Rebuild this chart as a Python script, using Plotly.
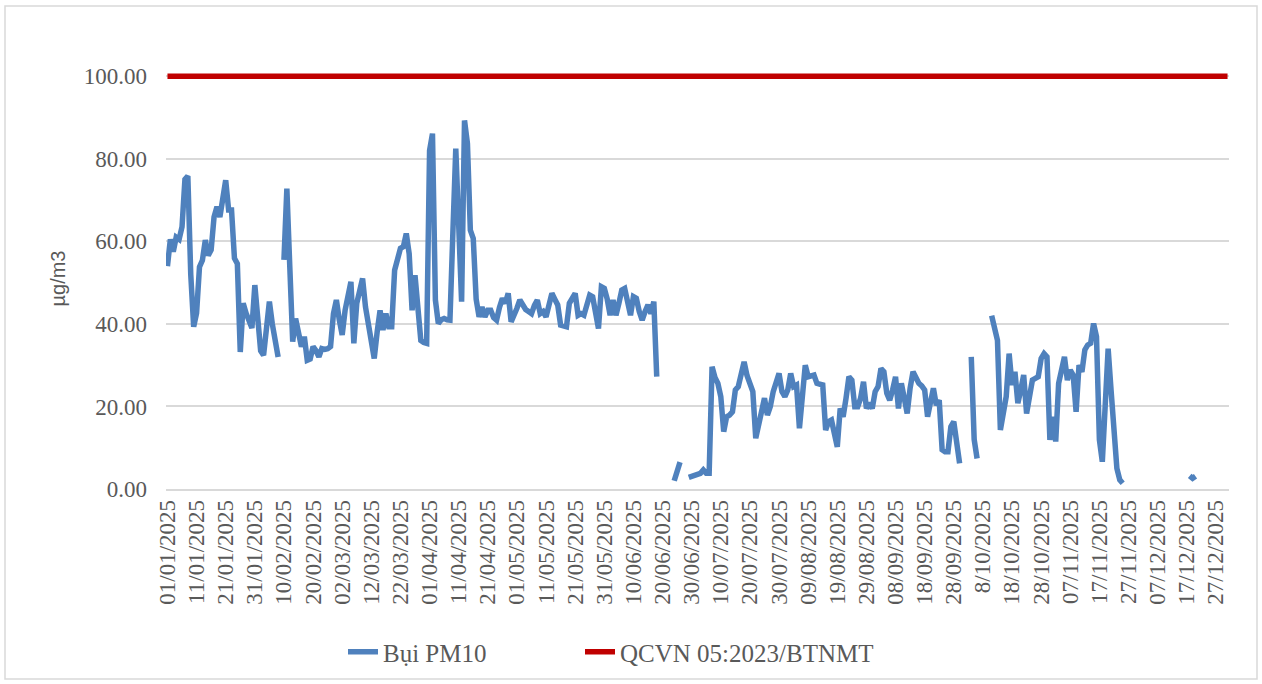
import pandas as pd
import plotly.graph_objects as go

N = None
# Daily PM10 values (µg/m3), 2025, by month
jan = [54, 60.5, 57.5, 61, 60.5, 63.5, 75, 75.8, 52, 39.3, 42.6, 53.8, 55.4, 60.3, 56.6, 57.9,
       65.9, 68.4, 65.9, 70, 74.8, 67.6, 67.6, 55.9, 54.6, 33.2, 45, 42.6, 41, 39, 49.4]
feb = [39.3, 33.5, 32.4, 38, 45.4, 40, 35, 32, N, 55.5, 72.8, 54, 35.7, 41.3, 38, 34.5,
       36.9, 31.2, 31.5, 34.5, 33.5, 32, 34, 33.8, 34, 34.5, 42.5, 45.8]
mar = [41, 37.3, 43.3, 46.5, 50.2, 35.3, 45, 48, 51, 44.1, 39.3, 35, 31.6, 38, 43.3, 38.5,
       42.5, 39.3, 39.3, 53, 56, 58.3, 58.7, 61.9, 57, 43.3, 51.8, 41.7, 36, 35.5, 35.3]
apr = [82, 86.1, 45.8, 40.1, 41, 41.3, 41, 40.9, 62, 82.5, 64, 45.4, 89.3, 83.7, 62.7,
       60.7, 46, 41.7, 44.1, 41.7, 43.3, 43.3, 41.5, 40.9, 44, 46.2, 45, 47.4, 40.5, 42]
may = [43.8, 45.8, 44.6, 43.5, 43, 42.5, 44.5, 45.8, 42.5, 43, 41.7, 44, 47.4, 46, 44.6,
       39.7, 39.5, 39.3, 45, 46.6, 47.4, 42.1, 42.5, 42.1, 45, 47, 46.6, 42, 38.9, 49, 48.6]
jun = [46, 42.1, 45.8, 42.1, 45, 48.2, 48.6, 45, 42.1, 46.6, 46.2, 43, 40.9, 43, 44.6,
       42.5, 45.4, 27.2, N, N, N, N, N, 2.0, 4.0, 6.5, N, N, 2.8, 3.0]
jul = [3.2, 3.5, 3.8, 4.6, 3.8, 3.8, 29.6, 27, 25.6, 22.4, 13.9, 17.5, 17.9, 18.7, 24,
       24.8, 27.5, 30.8, 27.5, 25.2, 23.6, 12.3, 15.1, 18, 22, 17.9, 20, 23.6, 26, 28, 23.6]
aug = [22.4, 24, 28, 24.8, 25.2, 14.7, 22, 30, 27.2, 27.4, 27.6, 25.6, 25.4, 25.2, 14.3,
       16.3, 16.7, 14, 10.2, 19.5, 17.5, 22, 27.2, 26.4, 19.9, 19.9, 22, 26, 19.5, 20.8, 19.5]
sep = [23.6, 24.8, 29.2, 28.4, 23.2, 21.5, 24, 27.2, 19.5, 25.6, 22, 18.3, 24.4, 28.4, 27,
       25.6, 25, 24, 17.5, 22, 24.4, 20.3, 21.5, 9.5, 9, 9, 15.1, 16.3, 11, 6.2]
oct_ = [N, N, N, 32, 12, 7.4, N, N, N, N, 42, 39, 36, 14.3, 18, 22.4, 32.8, 25.2, 28.4,
        20.8, 24, 27.6, 18.3, 22.5, 26.4, 26.8, 27.2, 31.6, 32.8, 32, 11.9]
nov = [17.5, 11.5, 25.6, 28.5, 32, 26.4, 28.8, 27.6, 18.7, 30, 28.4, 33.7, 34.9, 35.3,
       40.1, 36.9, 11.9, 6.6, 20, 34, 24, 15.1, 5, 2.2, 1.4, N, N, N, N, N]
dec = [N] * 17 + [3.2, 2.6, 3.1] + [N] * 11

pm10 = jan + feb + mar + apr + may + jun + jul + aug + sep + oct_ + nov + dec
dates = pd.date_range("2025-01-01", "2025-12-31", freq="D")
limit_value = 100.0
limit = [limit_value] * len(dates)

tick_labels = ["01/01/2025", "11/01/2025", "21/01/2025", "31/01/2025", "10/02/2025",
               "20/02/2025", "02/03/2025", "12/03/2025", "22/03/2025", "01/04/2025",
               "11/04/2025", "21/04/2025", "01/05/2025", "11/05/2025", "21/05/2025",
               "31/05/2025", "10/06/2025", "20/06/2025", "30/06/2025", "10/07/2025",
               "20/07/2025", "30/07/2025", "09/08/2025", "19/08/2025", "29/08/2025",
               "08/09/2025", "18/09/2025", "28/09/2025", "8/10/2025", "18/10/2025",
               "28/10/2025", "07/11/2025", "17/11/2025", "27/11/2025", "07/12/2025",
               "17/12/2025", "27/12/2025"]
tick_dates = list(dates[::10])

serif = "Times New Roman, Liberation Serif, serif"
gray = "#595959"

fig = go.Figure()
fig.add_trace(go.Scatter(x=dates, y=pm10, mode="lines", name="Bụi PM10",
                         line=dict(color="#4F81BD", width=5.5), connectgaps=False,
                         legend="legend"))
fig.add_trace(go.Scatter(x=dates, y=limit, mode="lines", name="QCVN 05:2023/BTNMT",
                         line=dict(color="#C00000", width=5.5), legend="legend2"))

W, H = 1262, 684
L, T = 166, 68
R = 1262 - 1229
B = 684 - 489
pw, ph = W - L - R, H - T - B

def px_x(p):
    return (p - L) / pw

def px_y(p):
    return (H - B - p) / ph

leg_font = dict(family=serif, size=25, color=gray)

fig.update_layout(
    width=W, height=H,
    margin=dict(l=L, r=R, t=T, b=B, autoexpand=False),
    paper_bgcolor="white", plot_bgcolor="white",
    font=dict(family=serif, color=gray, size=23),
    showlegend=True,
    legend=dict(orientation="h", x=px_x(343), xanchor="left", y=px_y(652), yanchor="middle",
                font=leg_font, bgcolor="rgba(0,0,0,0)"),
    legend2=dict(orientation="h", x=px_x(580), xanchor="left", y=px_y(652), yanchor="middle",
                 font=leg_font, bgcolor="rgba(0,0,0,0)"),
    xaxis=dict(type="date",
               range=["2024-12-31 12:00", "2025-12-31 12:00"],
               tickmode="array", tickvals=tick_dates, ticktext=tick_labels,
               tickangle=-90, tickfont=dict(family=serif, size=23, color=gray),
               showgrid=False, showline=True, linecolor="#D9D9D9", linewidth=1.5,
               ticks="", zeroline=False, automargin=False),
    yaxis=dict(range=[0, 102], tickmode="array", tickvals=[0, 20, 40, 60, 80, 100],
               tickformat=".2f", tickfont=dict(family=serif, size=23, color=gray),
               showgrid=True, gridcolor="#D9D9D9", gridwidth=1.5, zeroline=False,
               showline=False, ticks="", ticklabelstandoff=18, automargin=False,
               title=dict(text="µg/m3", standoff=12,
                          font=dict(family="Liberation Sans, Arial, sans-serif", size=20, color=gray))),
    shapes=[dict(type="rect", xref="paper", yref="paper",
                 x0=px_x(5), x1=px_x(1257), y0=px_y(679), y1=px_y(6),
                 line=dict(color="#D9D9D9", width=1.5), fillcolor="rgba(0,0,0,0)", layer="below")],
)

fig.write_html("out.html", config={"displayModeBar": False},
               post_script="document.body.style.margin='0px';document.body.style.overflow='hidden';")
